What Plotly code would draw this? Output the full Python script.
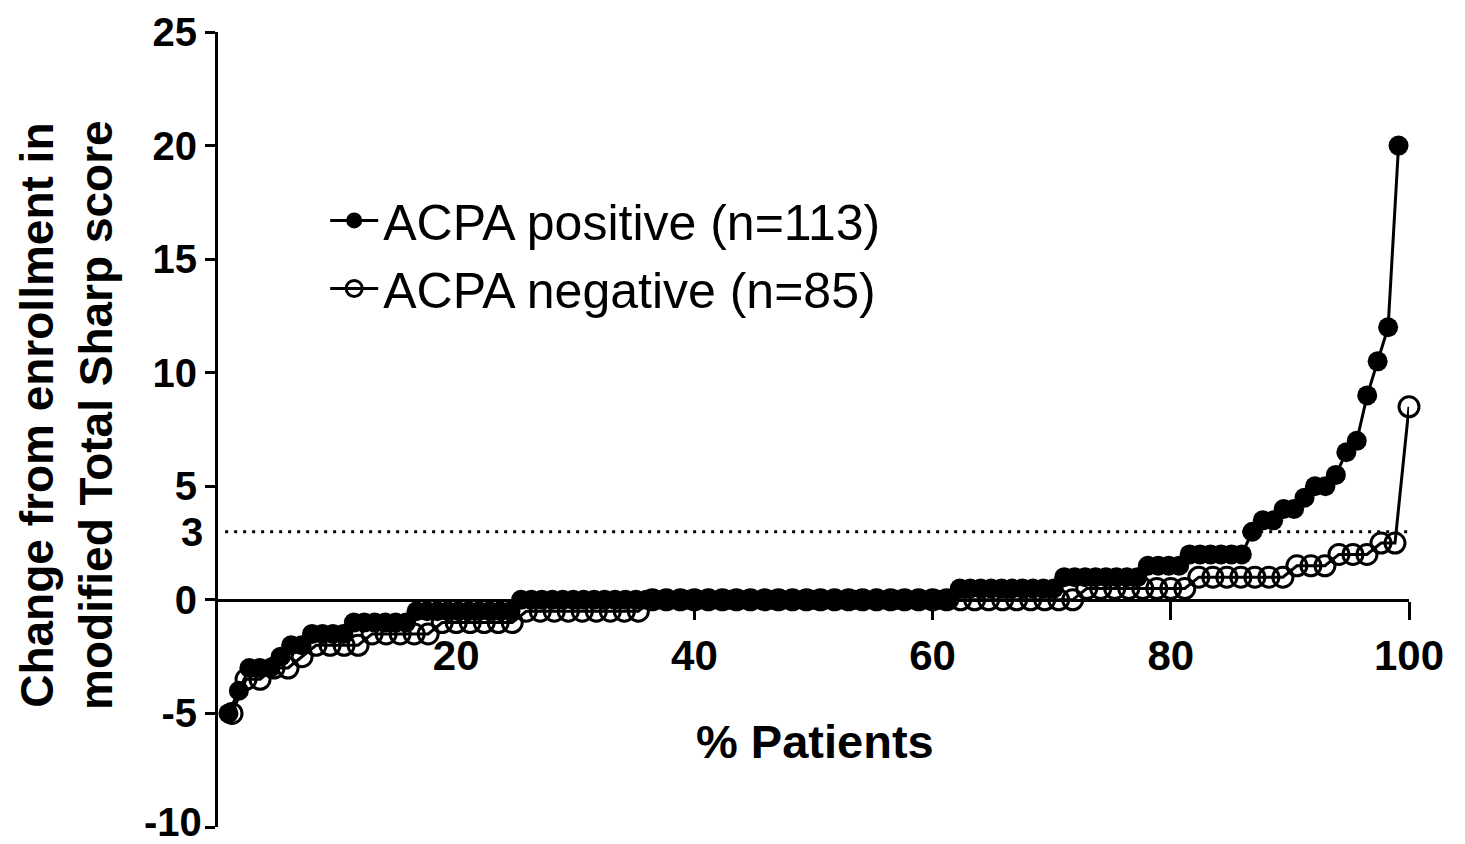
import plotly.graph_objects as go

# Change from enrollment in mTSS, sorted ascending
pos_change = [
    -5, -4, -3, -3, -3, -2.5, -2, -2, -1.5, -1.5, -1.5, -1.5,
    -1, -1, -1, -1, -1, -1,
    -0.5, -0.5, -0.5, -0.5, -0.5, -0.5, -0.5, -0.5, -0.5, -0.5,
    0, 0, 0, 0, 0, 0, 0, 0, 0, 0, 0, 0, 0, 0, 0, 0, 0, 0, 0, 0, 0,
    0, 0, 0, 0, 0, 0, 0, 0, 0, 0, 0, 0, 0, 0, 0, 0, 0, 0, 0, 0, 0,
    0.5, 0.5, 0.5, 0.5, 0.5, 0.5, 0.5, 0.5, 0.5, 0.5,
    1, 1, 1, 1, 1, 1, 1, 1,
    1.5, 1.5, 1.5, 1.5,
    2, 2, 2, 2, 2, 2,
    3, 3.5, 3.5, 4, 4, 4.5, 5, 5, 5.5, 6.5, 7, 9, 10.5, 12, 20,
]
neg_change = [
    -5, -3.5, -3.5, -3, -3, -2.5,
    -2, -2, -2, -2,
    -1.5, -1.5, -1.5, -1.5, -1.5,
    -1, -1, -1, -1, -1, -1,
    -0.5, -0.5, -0.5, -0.5, -0.5, -0.5, -0.5, -0.5, -0.5,
    0, 0, 0, 0, 0, 0, 0, 0, 0, 0, 0, 0, 0, 0, 0, 0,
    0, 0, 0, 0, 0, 0, 0, 0, 0, 0, 0, 0, 0, 0, 0,
    0.5, 0.5, 0.5, 0.5, 0.5, 0.5, 0.5, 0.5,
    1, 1, 1, 1, 1, 1, 1,
    1.5, 1.5, 1.5,
    2, 2, 2,
    2.5, 2.5, 8.5,
]

# percentile rank of each patient
pos_pct = [100 * (k + 1) / (len(pos_change) + 1) for k in range(len(pos_change))]
neg_pct = [100 * (k + 1) / len(neg_change) for k in range(len(neg_change))]

x_ticks = [20, 40, 60, 80, 100]
y_ticks = [-10, -5, 0, 5, 10, 15, 20, 25]
y_tick_labels = ["", "-5", "0", "5", "10", "15", "20", "25"]
y_bottom_label = "-10"
threshold = 3

FONT = "Liberation Sans"

fig = go.Figure()
fig.add_trace(go.Scatter(
    x=pos_pct, y=pos_change, mode="lines+markers",
    name="ACPA positive (n=113)",
    line=dict(color="black", width=3),
    marker=dict(symbol="circle", size=20, color="black"),
    cliponaxis=False,
))
fig.add_trace(go.Scatter(
    x=neg_pct, y=neg_change, mode="lines+markers",
    name="ACPA negative (n=85)",
    line=dict(color="black", width=3),
    marker=dict(symbol="circle-open", size=20, color="black", line=dict(width=3, color="black")),
    cliponaxis=False,
))

fig.add_shape(type="line", xref="x", yref="y", x0=0.6, x1=100, y0=threshold, y1=threshold,
              line=dict(color="black", width=3, dash="3px,6px"))

fig.add_annotation(xref="paper", yref="y", x=0, y=threshold, xshift=-13, xanchor="right",
                   text="3", showarrow=False,
                   font=dict(family=FONT, size=40, color="black", weight="bold"))

# bottom y tick label, nudged slightly so it stays inside the page
fig.add_annotation(xref="paper", yref="y", x=0, y=y_ticks[0], xshift=-14, yshift=5,
                   xanchor="right", yanchor="middle",
                   text=y_bottom_label, showarrow=False,
                   font=dict(family=FONT, size=40, color="black", weight="bold"))

fig.add_annotation(xref="paper", yref="paper", x=0.501, y=0.107, text="% Patients",
                   showarrow=False, xanchor="center", yanchor="middle",
                   font=dict(family=FONT, size=47, color="black", weight="bold"))

fig.add_annotation(xref="paper", yref="paper", x=-0.127, y=0.518,
                   text="Change from enrollment in<br>modified Total Sharp score",
                   textangle=-90, showarrow=False, xanchor="center", yanchor="middle",
                   font=dict(family=FONT, size=46, color="black", weight="bold"))

fig.update_layout(
    width=1465, height=844,
    margin=dict(l=218, r=56, t=32, b=17, autoexpand=False),
    plot_bgcolor="white", paper_bgcolor="white",
    showlegend=True,
    legend=dict(x=0.09, y=0.812, xanchor="left", yanchor="top",
                bgcolor="rgba(0,0,0,0)", itemwidth=48,
                font=dict(family=FONT, size=50, color="black")),
    xaxis=dict(range=[0, 100], anchor="free", position=10 / 35, automargin=False,
               showline=True, linecolor="black", linewidth=3,
               ticks="outside", ticklen=18, tickwidth=3, tickcolor="black",
               tickvals=x_ticks, showgrid=False, zeroline=False,
               ticklabeloverflow="allow",
               tickfont=dict(family=FONT, size=42, color="black", weight="bold")),
    yaxis=dict(range=[-10, 25], automargin=False,
               showline=True, linecolor="black", linewidth=3,
               ticks="outside", ticklen=10, tickwidth=3, tickcolor="black",
               tickvals=y_ticks, ticktext=y_tick_labels, showgrid=False, zeroline=False,
               ticklabeloverflow="allow",
               tickfont=dict(family=FONT, size=40, color="black", weight="bold")),
)

fig.write_html("out.html", config={"displayModeBar": False},
               post_script="document.body.style.margin='0px';document.body.style.overflow='hidden';")
